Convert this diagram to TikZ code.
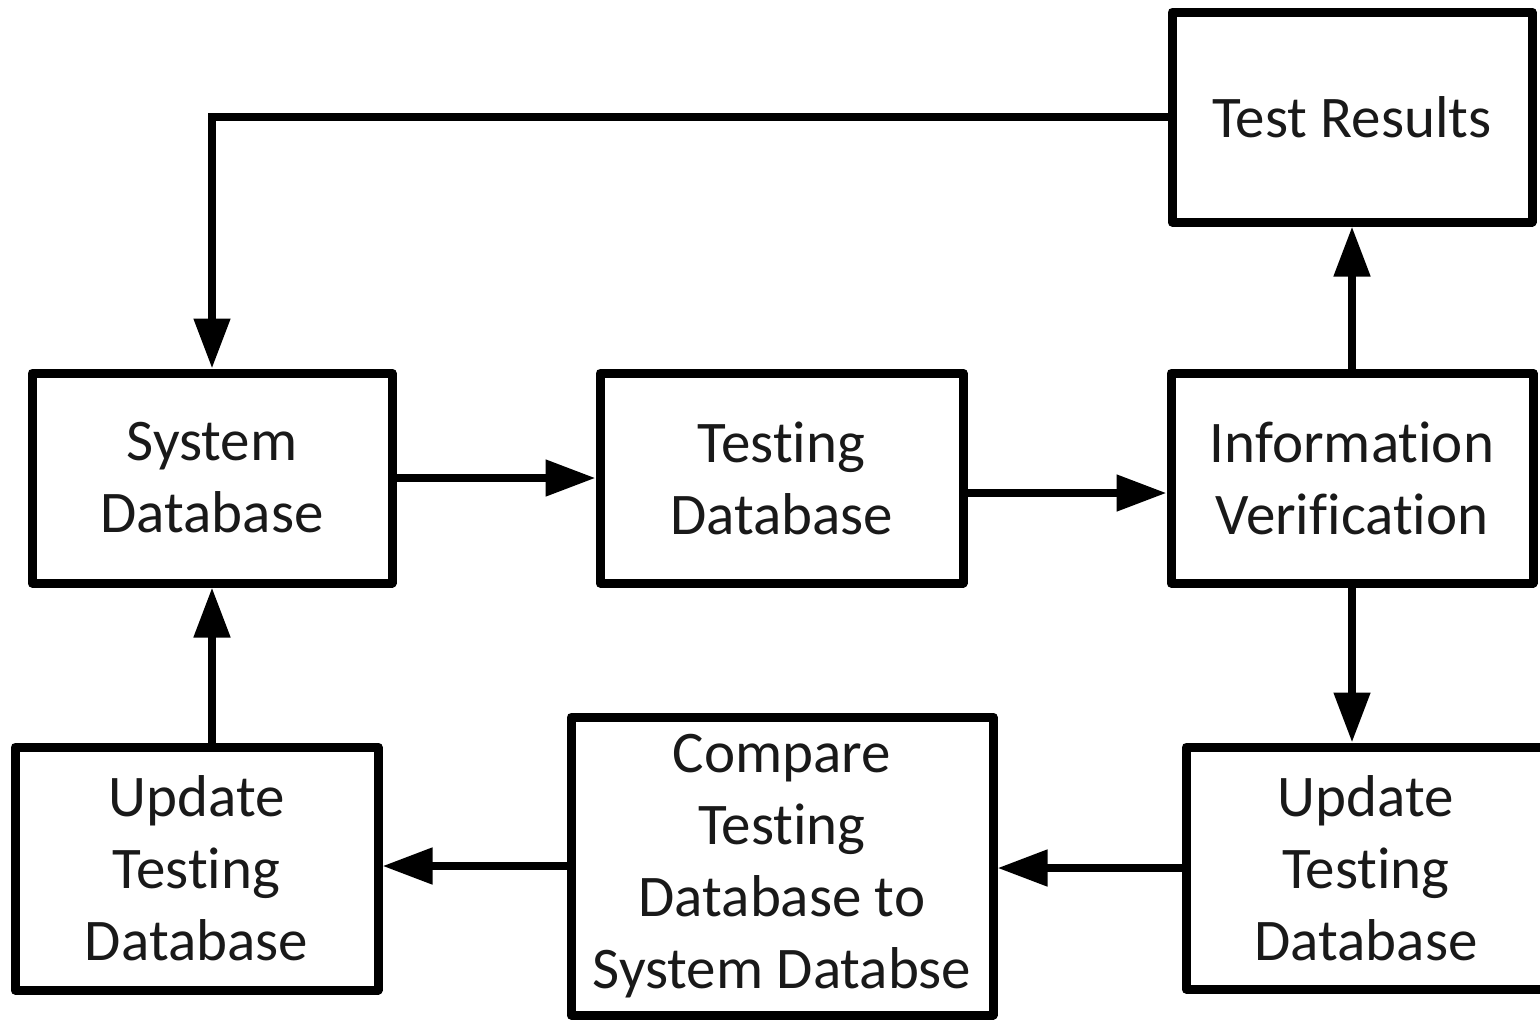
\documentclass[tikz,border=0pt]{standalone}
\usepackage{fontspec}
\setmainfont{Carlito}[Ligatures={NoCommon,NoContextual},RawFeature={-liga;-clig;-dlig}]
\usetikzlibrary{arrows.meta,calc}
\tikzset{
  blk/.style={draw, line width=4.5pt, line join=round, inner sep=0pt, align=center,
    text=black!90, font=\fontsize{29.5pt}{36pt}\selectfont},
  flow/.style={line width=4pt, -{Triangle[length=25pt,width=17.5pt]}}
}
\begin{document}
\begin{tikzpicture}[x=0.5pt,y=-0.5pt]
  \useasboundingbox (0,0) rectangle (1540,1019);

  % process boxes
  \node[blk, minimum width=180pt, minimum height=105pt] (tr) at (1352,117) {Test Results};
  \node[blk, minimum width=180pt, minimum height=105pt] (sd) at (212,478) {System\\Database};
  \node[blk, minimum width=181.5pt, minimum height=105pt] (td) at (781.5,478) {Testing\\Database};
  \node[blk, minimum width=181pt, minimum height=105pt] (iv) at (1352,478) {Information\\Verification};
  \node[blk, minimum width=181.5pt, minimum height=121.5pt] (ul) at (196.5,868.5) {Update\\Testing\\Database};
  \node[blk, minimum width=211pt, minimum height=149pt] (cmp) at (782,866) {Compare\\Testing\\Database to\\System Databse};
  \node[blk, minimum width=180pt, minimum height=121pt] (ur) at (1366,868) {Update\\Testing\\Database};

  % exit point of the testing database, slightly below its centre
  \coordinate (tdout) at ($(td.east)+(0,15)$);

  % connectors
  \draw[flow] (tr.west) -| (sd.north);
  \draw[flow] (sd.east) -- (sd.east -| td.west);
  \draw[flow] (tdout) -- (tdout -| iv.west);
  \draw[flow] (iv.north) -- (iv.north |- tr.south);
  \draw[flow] (iv.south) -- (iv.south |- ur.north);
  \draw[flow] (ur.west) -- (ur.west -| cmp.east);
  \draw[flow] (cmp.west) -- (cmp.west -| ul.east);
  \draw[flow] (sd.south |- ul.north) -- (sd.south);
\end{tikzpicture}
\end{document}
